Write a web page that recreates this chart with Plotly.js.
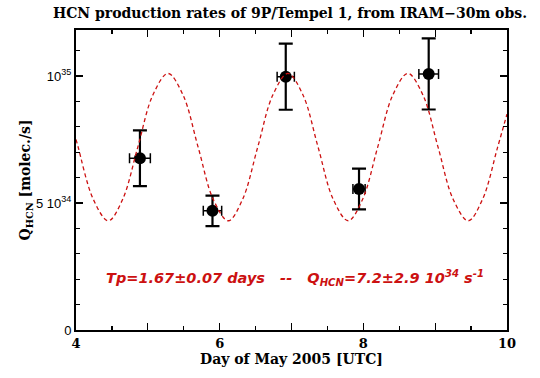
<!DOCTYPE html>
<html><head><meta charset="utf-8">
<script src="https://cdn.plot.ly/plotly-3.0.1.min.js"></script>
<style>html,body{margin:0;padding:0;background:#fff}#c{width:540px;height:378px}</style>
</head><body><div id="c"></div>
<script>
// Observations (day of May 2005, Q_HCN in molec/s)
const obsDay = [4.89, 5.90, 6.92, 7.94, 8.91];
const obsDayErr = [0.145, 0.128, 0.12, 0.085, 0.137];
const obsQ = [6.76e34, 4.69e34, 9.97e34, 5.55e34, 10.08e34];
const obsQErr = [1.1e34, 0.6e34, 1.3e34, 0.8e34, 1.4e34];

// Fitted periodic curve
const fitDay = [4.00, 4.03, 4.24, 4.45, 4.65, 4.86, 5.07, 5.28, 5.49, 5.70, 5.91, 6.12, 6.32, 6.53, 6.74, 6.95, 7.16, 7.37, 7.58, 7.79, 7.99, 8.20, 8.41, 8.62, 8.83, 9.04, 9.25, 9.46, 9.66, 9.87, 10.00];
const fitQ = [7.5e34, 7.2e34, 5.15e34, 4.3e34, 5.15e34, 7.2e34, 9.25e34, 10.1e34, 9.25e34, 7.2e34, 5.15e34, 4.3e34, 5.15e34, 7.2e34, 9.25e34, 10.1e34, 9.25e34, 7.2e34, 5.15e34, 4.3e34, 5.15e34, 7.2e34, 9.25e34, 10.1e34, 9.25e34, 7.2e34, 5.15e34, 4.3e34, 5.15e34, 7.2e34, 8.5e34];

const xTickVals = [4, 5, 6, 7, 8, 9, 10];
const xTickText = ["<b>4</b>", "", "<b>6</b>", "", "<b>8</b>", "", "<b>10</b>"];
const yTickVals = [0, 5e34, 1e35];
const yTickText = ["0", "5 10<sup>34</sup>", "10<sup>35</sup>"];

const titleText = "<b>HCN production rates of 9P/Tempel 1, from IRAM\u221230m obs.</b>";
const xTitle = "<b>Day of May 2005 [UTC]</b>";
const yTitle = "<b>Q<sub>HCN</sub> [molec./s]</b>";
const noteText = "<b><i>Tp=1.67\u00b10.07 days &nbsp;&nbsp;--&nbsp;&nbsp; Q<sub>HCN</sub>=7.2\u00b12.9 10<sup>34</sup> s<sup>-1</sup></i></b>";

const serif = "DejaVu Serif, serif";
const sans = "Liberation Sans, Arial, sans-serif";
const wideSans = "DejaVu Sans, sans-serif";

const traces = [
  {
    x: obsDay, y: obsQ, type: "scatter", mode: "markers",
    marker: {color: "#000", size: 12},
    error_y: {type: "data", array: obsQErr, visible: true, color: "#000", thickness: 2.2, width: 7},
    error_x: {type: "data", array: obsDayErr, visible: true, color: "#000", thickness: 1.5, width: 5},
    hoverinfo: "skip"
  },
  {
    x: fitDay, y: fitQ, type: "scatter", mode: "lines",
    line: {color: "#cc1111", width: 1.3, dash: "4px,3px", shape: "spline", smoothing: 1},
    hoverinfo: "skip"
  }
];

const axisCommon = {
  showline: true, linecolor: "#000", linewidth: 2, mirror: "ticks",
  ticks: "inside", tickcolor: "#000", tickwidth: 1.2,
  showgrid: false, zeroline: false
};

const layout = {
  width: 540, height: 378,
  margin: {l: 76, r: 33, t: 30, b: 48},
  paper_bgcolor: "#fff", plot_bgcolor: "#fff",
  showlegend: false,
  title: {text: titleText, font: {family: serif, size: 14, color: "#000"}, x: 0.537, xanchor: "center", y: 0.965, yanchor: "middle"},
  xaxis: Object.assign({}, axisCommon, {
    range: [4, 10], tickmode: "array", tickvals: xTickVals, ticktext: xTickText, ticklen: 7,
    tickfont: {family: serif, size: 13, color: "#000"},
    minor: {dtick: 0.5, ticks: "inside", ticklen: 4, tickcolor: "#000", showgrid: false},
    title: {text: xTitle, font: {family: serif, size: 14, color: "#000"}, standoff: 4}
  }),
  yaxis: Object.assign({}, axisCommon, {
    range: [0, 1.181e35], tickmode: "array", tickvals: yTickVals, ticktext: yTickText, ticklen: 7,
    tickfont: {family: sans, size: 13, color: "#000"},
    minor: {dtick: 1e34, ticks: "inside", ticklen: 4, tickcolor: "#000", showgrid: false},
    title: {text: yTitle, font: {family: serif, size: 14, color: "#000"}, standoff: 2}
  }),
  annotations: [{
    x: 7.05, y: 2.05e34, xref: "x", yref: "y", text: noteText, showarrow: false,
    font: {family: wideSans, size: 14.5, color: "#cc1111"}, xanchor: "center", yanchor: "middle"
  }]
};

Plotly.newPlot("c", traces, layout, {displayModeBar: false, staticPlot: true});
</script></body></html>
